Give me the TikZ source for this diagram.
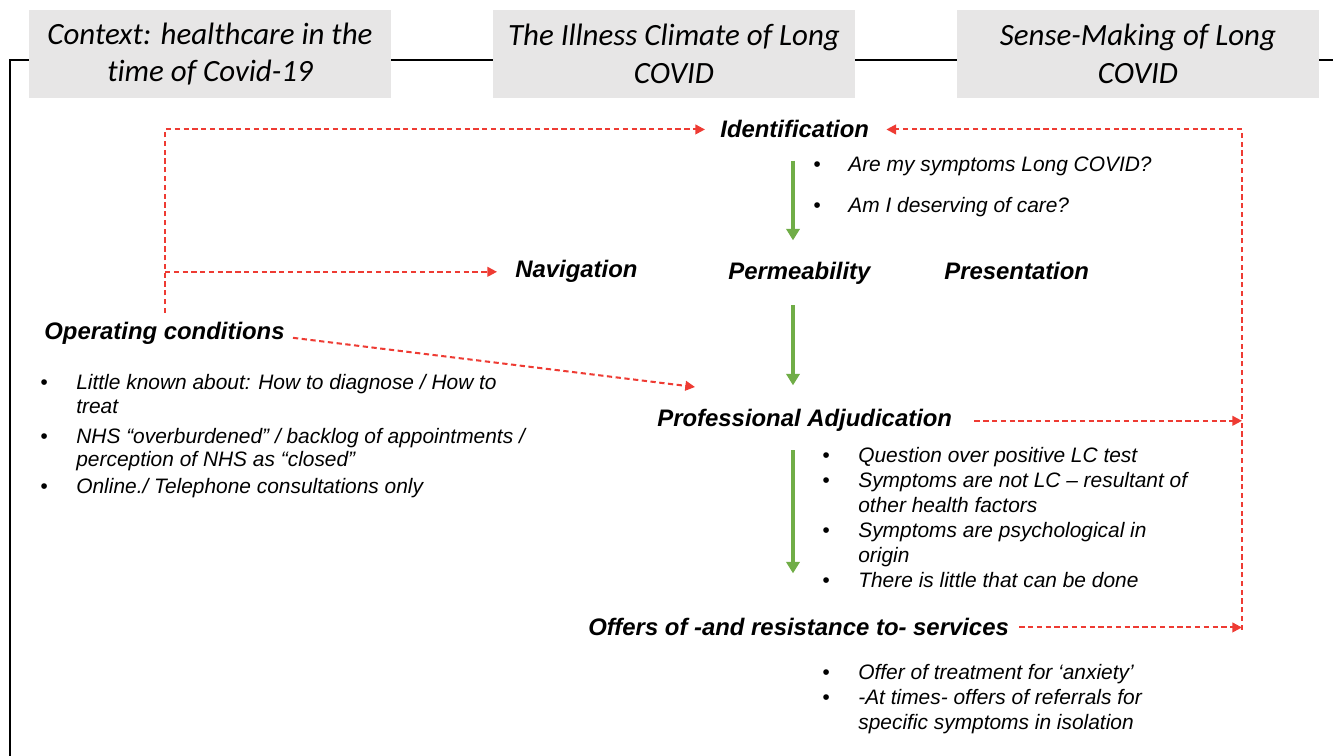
\documentclass[tikz,border=0pt]{standalone}
\usepackage{fontspec}
\setmainfont{Liberation Sans}
\newfontfamily\headfont[Ligatures=NoCommon]{Carlito}
\usepackage{xcolor}
\usetikzlibrary{positioning,arrows.meta}
\definecolor{boxgray}{HTML}{E7E6E6}
\definecolor{linkred}{HTML}{EE3B33}
\definecolor{flowgreen}{HTML}{70AD47}
\tikzset{
    header/.style={fill=boxgray, minimum width=7.24cm, minimum height=1.76cm, inner sep=0pt, align=center,
        font=\headfont\itshape\fontsize{17.6}{21.5}\selectfont},
    stage/.style={anchor=base west, inner sep=0pt, font=\bfseries\itshape\fontsize{13.6}{15}\selectfont},
    points/.style={anchor=base west, inner sep=0pt, font=\itshape\fontsize{11.9}{14.2}\selectfont},
    link/.style={draw=linkred, line width=1.15pt, dash pattern=on 3pt off 2pt, -{Triangle[length=5.5pt,width=5.5pt]}},
    flow/.style={draw=flowgreen, line width=2.2pt, -{Triangle[length=6.5pt,width=7.5pt]}},
    frame/.style={line width=1.3pt}
}

\begin{document}
\begin{tikzpicture}[x=0.02cm, y=-0.02cm]
    \useasboundingbox (0,0) rectangle (1333,756);

    % frame behind the three headers
    \draw[frame] (10,756) -- (10,60) -- (1333,60);

    % headers
    \node[header] (context) at (210,54) {Context: healthcare in the\\time of Covid-19};
    \node[header] (climate) at (674,54) {The Illness Climate of Long\\COVID};
    \node[header] (sense) at (1138,54) {Sense-Making of Long\\COVID};

    % stages
    \node[stage] (ident) at (720,138) {Identification};
    \node[stage] (nav) at (515,278) {Navigation};
    \node[stage] (perm) at (728,280) {Permeability};
    \node[stage] (pres) at (944,280) {Presentation};
    \node[stage] (opcond) at (44,340) {Operating conditions};
    \node[stage] (adjud) at (657,427) {Professional Adjudication};
    \node[stage] (offers) at (588,636) {Offers of -and resistance to- services};

    % bullet lists
    \node[points] (identpts) at (813,172) {\begin{tabular}[t]{@{}p{0.7cm}@{}l@{}}
        • & Are my symptoms Long COVID?\\[9pt]
        • & Am I deserving of care?
    \end{tabular}};
    \node[points] (oppts) at (40,390) {\begin{tabular}[t]{@{}p{0.72cm}@{}l@{}}
        • & Little known about: How to diagnose / How to\\[-1.1pt]
          & treat\\[3.4pt]
        • & NHS “overburdened” / backlog of appointments /\\[-1.1pt]
          & perception of NHS as “closed”\\[1.1pt]
        • & Online./ Telephone consultations only
    \end{tabular}};
    \node[points] (adjpts) at (822,463) {\begin{tabular}[t]{@{}p{0.72cm}@{}l@{}}
        • & Question over positive LC test\\
        • & Symptoms are not LC – resultant of\\
          & other health factors\\
        • & Symptoms are psychological in\\
          & origin\\
        • & There is little that can be done
    \end{tabular}};
    \node[points] (offerpts) at (822,680) {\begin{tabular}[t]{@{}p{0.72cm}@{}l@{}}
        • & Offer of treatment for ‘anxiety’\\
        • & -At times- offers of referrals for\\
          & specific symptoms in isolation
    \end{tabular}};

    % turning points of the dashed links, and the line of the main flow
    \coordinate (opfork) at (165,313);
    \coordinate (adjin) at (695,387);
    \coordinate (rbot) at (1242,630);
    \coordinate (spine) at (793,0);

    % dashed links
    \draw[link] (opfork) |- ([xshift=-0.3cm]ident.west);
    \draw[link] (nav.west -| opfork) -- ([xshift=-0.36cm]nav.west);
    \draw[link] ([xshift=0.16cm,yshift=-0.08cm]opcond.east) -- (adjin);
    \draw[link] (rbot) |- ([xshift=0.34cm]ident.east);
    \draw[link] ([xshift=0.44cm]adjud.east) -- (adjud.east -| rbot);
    \draw[link] ([xshift=0.2cm]offers.east) -- (offers.east -| rbot);

    % main flow
    \draw[flow] ([yshift=-0.44cm]spine |- ident.south) -- ([yshift=0.44cm]spine |- perm.north);
    \draw[flow] ([yshift=-0.4cm]spine |- perm.south) -- ([yshift=0.48cm]spine |- adjud.north);
    \draw[flow] ([yshift=-0.36cm]spine |- adjud.south) -- ([yshift=0.9cm]spine |- offers.north);
\end{tikzpicture}
\end{document}
